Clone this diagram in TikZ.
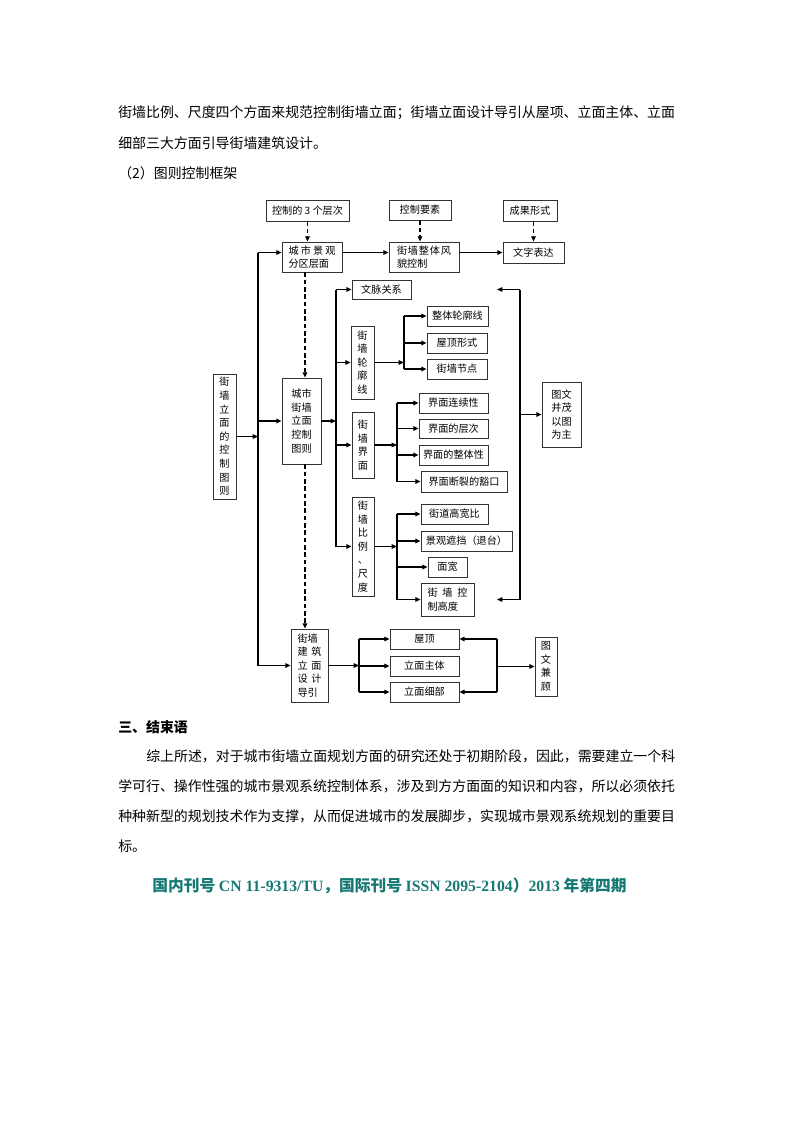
\documentclass[tikz,border=0pt]{standalone}
\usepackage{fontspec}
\setmainfont{Noto Sans CJK SC}
\newfontfamily\tnr{Liberation Serif}
\usetikzlibrary{arrows.meta}
\definecolor{teal1}{RGB}{22,120,115}
\newcommand\dgfont{\fontsize{7.6}{10.2}\selectfont}
\newcommand\bodyfont{\fontsize{10.44}{14}\selectfont}
\newcommand\bx[7][]{\node[box,#1,minimum width={(#4-#2)*0.75pt},minimum height={(#5-#3)*0.75pt}] (#6) at ({(#2+#4)/2},{(#3+#5)/2}) {#7};}
\tikzset{
  box/.style={draw=black!80, line width=0.6pt, inner sep=0.5pt, font=\dgfont, align=center},
  ln/.style={line width=1pt},
  arr/.style={line width=1pt, -{Triangle[length=4pt,width=3.4pt]}},
  darr/.style={line width=1.1pt, dash pattern=on 3.5pt off 2pt, -{Triangle[length=4pt,width=3.4pt]}},
  body/.style={anchor=west, inner sep=0pt, font=\bodyfont}
}
\begin{document}
\begin{tikzpicture}[x=0.75pt,y=-0.75pt]
\fill[white] (0,0) rectangle (794,1123);
\useasboundingbox (0,0) rectangle (794,1123);

% body text
\node[body] (t1) at (118,113) {街墙比例、尺度四个方面来规范控制街墙立面；街墙立面设计导引从屋项、立面主体、立面};
\node[body] (t2) at (118,143) {细部三大方面引导街墙建筑设计。};
\node[body] (t3) at (118,173) {（2）图则控制框架};

% top row
\bx{266}{200}{349}{221}{n1}{控制的 3 个层次}
\bx{389}{200}{451}{220}{n2}{控制要素}
\bx{503}{200}{557}{221}{n3}{成果形式}
\bx[align=left]{282}{242}{342}{272}{a1}{\makebox[35.25pt]{城\hfill 市\hfill 景\hfill 观}\\分区层面}
\bx[align=left]{389}{242}{459}{272}{a2}{\makebox[40.5pt]{街\hfill 墙\hfill 整\hfill 体\hfill 风}\\貌控制}
\bx{503}{242}{564}{263}{a3}{文字表达}

% left column
\bx{213}{374}{236}{499}{L}{街\\墙\\立\\面\\的\\控\\制\\图\\则}
\bx{282}{378}{321}{464}{c}{城市\\街墙\\立面\\控制\\图则}
\bx[align=left]{291}{629}{328}{702}{g}{街墙\\\makebox[18pt]{建\hfill 筑}\\\makebox[18pt]{立\hfill 面}\\\makebox[18pt]{设\hfill 计}\\导引}

% middle
\bx{352}{280}{411}{299}{wm}{文脉关系}
\bx{351}{326}{374}{399}{lk}{街\\墙\\轮\\廓\\线}
\bx{427}{306}{488}{326}{k1}{整体轮廓线}
\bx{427}{333}{487}{353}{k2}{屋顶形式}
\bx{427}{359}{487}{379}{k3}{街墙节点}
\bx{352}{412}{374}{478}{jm}{街\\墙\\界\\面}
\bx{419}{393}{488}{413}{j1}{界面连续性}
\bx{419}{419}{488}{438}{j2}{界面的层次}
\bx{419}{445}{488}{465}{j3}{界面的整体性}
\bx{421}{471}{507}{492}{j4}{界面断裂的豁口}
\bx{352}{497}{374}{596}{bl}{街\\墙\\比\\例\\、\\尺\\度}
\bx{421}{504}{488}{524}{h1}{街道高宽比}
\bx{421}{531}{512}{551}{h2}{景观遮挡（退台）}
\bx{428}{557}{467}{577}{h3}{面宽}
\bx[align=left]{421}{583}{474}{616}{h4}{\makebox[30pt]{街\hfill 墙\hfill 控}\\制高度}
\bx{542}{382}{581}{447}{tw}{图文\\并茂\\以图\\为主}

% bottom
\bx{390}{629}{459}{649}{f1}{屋顶}
\bx{390}{656}{459}{676}{f2}{立面主体}
\bx{390}{682}{459}{702}{f3}{立面细部}
\bx{535}{637}{557}{696}{tj}{图\\文\\兼\\顾}

% helper x positions
\coordinate (vL) at (258,0);
\coordinate (vM) at (336,0);
\coordinate (v1) at (404,0);
\coordinate (v2) at (397,0);
\coordinate (vR) at (520,0);
\coordinate (xr) at (497,0);
\coordinate (vB) at (359,0);
\coordinate (xd) at (305,0);

% dashed
\draw[darr] (n1.south) -- (n1.south |- a1.north);
\draw[darr] (n2.south) -- (n2.south |- a2.north);
\draw[darr] (a3.north |- n3.south) -- (a3.north);
\draw[darr] (xd |- a1.south) -- (xd |- c.north);
\draw[darr] (xd |- c.south) -- (xd |- g.north);

% top row arrows
\draw[arr] (a1.east |- a3.west) -- (a2.west |- a3.west);
\draw[arr] (a2.east |- a3.west) -- (a3.west);

% left spine
\draw[ln] (vL |- a3.west) -- (vL |- g.west);
\draw[arr] (vL |- a3.west) -- (a1.west |- a3.west);
\draw[arr] (vL |- c.west) -- (c.west);
\draw[arr] (vL |- g.west) -- (g.west);
\draw[arr] (L.east) -- (L.east -| vL);

% middle spine
\draw[ln] (vM |- wm.west) -- (vM |- bl.west);
\draw[arr] (c.east) -- (c.east -| vM);
\draw[arr] (vM |- wm.west) -- (wm.west);
\draw[arr] (vM |- lk.west) -- (lk.west);
\draw[arr] (vM |- jm.west) -- (jm.west);
\draw[arr] (vM |- bl.west) -- (bl.west);

% branch 1
\draw[arr] (lk.east) -- (lk.east -| v1);
\draw[ln] (v1 |- k1.west) -- (v1 |- k3.west);
\draw[arr] (v1 |- k1.west) -- (k1.west);
\draw[arr] (v1 |- k2.west) -- (k2.west);
\draw[arr] (v1 |- k3.west) -- (k3.west);

% branch 2
\draw[arr] (jm.east) -- (jm.east -| v2);
\draw[ln] (v2 |- j1.west) -- (v2 |- j4.west);
\draw[arr] (v2 |- j1.west) -- (j1.west);
\draw[arr] (v2 |- j2.west) -- (j2.west);
\draw[arr] (v2 |- j3.west) -- (j3.west);
\draw[arr] (v2 |- j4.west) -- (j4.west);

% branch 3
\draw[arr] (bl.east) -- (bl.east -| v2);
\draw[ln] (v2 |- h1.west) -- (v2 |- h4.west);
\draw[arr] (v2 |- h1.west) -- (h1.west);
\draw[arr] (v2 |- h2.west) -- (h2.west);
\draw[arr] (v2 |- h3.west) -- (h3.west);
\draw[arr] (v2 |- h4.west) -- (h4.west);

% right bracket
\draw[ln] (vR |- wm.east) -- (vR |- h4.east);
\draw[arr] (vR |- wm.east) -- (xr |- wm.east);
\draw[arr] (vR |- h4.east) -- (xr |- h4.east);
\draw[arr] (vR |- tw.west) -- (tw.west);

% bottom group
\draw[arr] (g.east) -- (g.east -| vB);
\draw[ln] (vB |- f1.west) -- (vB |- f3.west);
\draw[arr] (vB |- f1.west) -- (f1.west);
\draw[arr] (vB |- f2.west) -- (f2.west);
\draw[arr] (vB |- f3.west) -- (f3.west);
\draw[ln] (xr |- f1.east) -- (xr |- f3.east);
\draw[arr] (xr |- f1.east) -- (f1.east);
\draw[arr] (xr |- f3.east) -- (f3.east);
\draw[arr] (tj.west -| xr) -- (tj.west);

% closing section
\node[body, font=\bodyfont\bfseries] (h) at (118,727) {三、结束语};
\node[body] (p1) at (146,756) {综上所述，对于城市街墙立面规划方面的研究还处于初期阶段，因此，需要建立一个科};
\node[body] (p2) at (118,786) {学可行、操作性强的城市景观系统控制体系，涉及到方方面面的知识和内容，所以必须依托};
\node[body] (p3) at (118,816) {种种新型的规划技术作为支撑，从而促进城市的发展脚步，实现城市景观系统规划的重要目};
\node[body] (p4) at (118,846) {标。};
\node[inner sep=0pt, text=teal1, font=\fontsize{11.8}{14}\selectfont\bfseries] (ft) at (389.5,886)
  {国内刊号 {\tnr\bfseries CN 11-9313/TU}，国际刊号 {\tnr\bfseries ISSN 2095-2104}）{\tnr\bfseries 2013} 年第四期};
\end{tikzpicture}
\end{document}
